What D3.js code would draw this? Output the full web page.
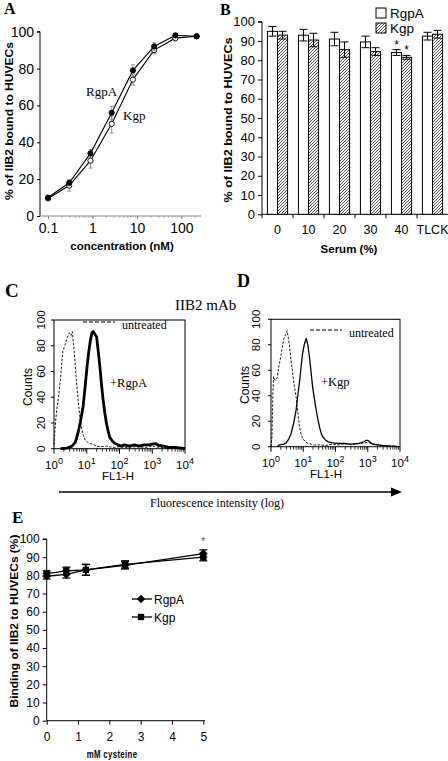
<!DOCTYPE html>
<html><head><meta charset="utf-8">
<script src="https://cdn.jsdelivr.net/npm/d3@7"></script>
<style>body{margin:0;background:#fff} svg{display:block}</style>
</head><body><svg id="c" width="448" height="761"></svg>
<script>
// ---------- Panel A ----------
const concA = [0.1, 0.3, 0.9, 2.7, 8.1, 24.3, 72.9, 218.7];
const rgpA_A = [10, 18, 34, 56, 79, 92, 98, 97.5];
const rgpA_Aerr = [1, 1.5, 2, 3.5, 3, 2, 1, 1];
const kgp_A = [9.5, 16.5, 30, 50, 74, 90, 96.5, 97.5];
const kgp_Aerr = [1, 3, 4, 5, 3, 2, 1.5, 1];
const ticksA_y = [0, 20, 40, 60, 80, 100];
const ticksA_x = [0.1, 1, 10, 100];

// ---------- Panel B ----------
const serumCats = ["0", "10", "20", "30", "40", "TLCK"];
const rgpB = [95, 93, 91, 89.5, 84, 92.5];
const rgpBerr = [2.5, 3, 3.5, 3, 1.5, 2];
const kgpB = [93, 90.5, 85.5, 84.5, 81.5, 93.5];
const kgpBerr = [2, 3.5, 4, 2, 1, 2];
const starsB = ["40"];
const ticksB_y = [0, 10, 20, 30, 40, 50, 60, 70, 80, 90, 100];

// ---------- Panels C, D (x = log10 FL1-H, y = counts) ----------
const C_untreated = [[0,3],[0.03,15],[0.08,30],[0.13,38],[0.2,55],[0.27,76],[0.33,80],[0.4,86],[0.47,90],[0.52,88],[0.56,91],[0.6,80],[0.64,68],[0.68,54],[0.73,40],[0.78,27],[0.84,16],[0.9,10],[0.95,7],[1.02,5],[1.1,4],[1.19,3.5],[1.3,2],[1.4,1.5],[1.6,2],[1.8,1],[2.0,1.5],[2.2,1],[2.5,1.5],[2.8,1],[3.0,2],[3.2,1],[3.5,0.5],[4,0]];
const C_rgpa = [[0.2,0],[0.4,0.5],[0.55,2],[0.65,5],[0.73,12],[0.8,20],[0.89,33],[0.95,48],[1.01,64],[1.06,75],[1.11,84],[1.16,90],[1.2,91],[1.25,89],[1.3,87],[1.35,76],[1.4,64],[1.45,50],[1.5,38],[1.55,28],[1.6,20],[1.65,14],[1.7,9],[1.78,6],[1.86,4],[1.95,3],[2.05,2],[2.15,3],[2.3,2],[2.45,3],[2.6,2],[2.75,3],[2.9,3],[3.0,3.5],[3.1,4],[3.2,2.5],[3.35,2],[3.5,1],[3.7,1],[3.9,0.5],[4,0]];
const D_untreated = [[0,0],[0.03,8],[0.06,42],[0.08,55],[0.13,52],[0.19,54],[0.25,64],[0.3,70],[0.35,78],[0.4,85],[0.45,88],[0.5,91],[0.54,85],[0.58,78],[0.62,68],[0.67,58],[0.72,48],[0.78,39],[0.83,27],[0.88,16],[0.93,10],[0.98,6.5],[1.06,4],[1.14,2.6],[1.25,2],[1.34,1.3],[1.5,1.5],[1.7,1],[1.9,2],[2.1,1.5],[2.3,2.5],[2.5,1.5],[2.7,2.5],[2.9,3],[3.0,3.5],[3.1,2.5],[3.3,1.5],[3.5,1],[3.8,0.5],[4,0]];
const D_kgp = [[0.2,0],[0.26,1.5],[0.4,2],[0.47,3],[0.55,6],[0.62,10],[0.7,18],[0.78,29],[0.83,40],[0.88,50],[0.93,62],[0.98,73],[1.03,80],[1.09,85],[1.14,80],[1.19,71],[1.24,59],[1.29,47],[1.35,37],[1.4,29],[1.45,22],[1.5,16],[1.55,11],[1.6,8],[1.68,5.5],[1.76,4],[1.9,3],[2.07,2.6],[2.25,2.5],[2.48,2],[2.7,2.5],[2.89,4],[2.95,5],[3.0,5],[3.08,3.5],[3.15,2],[3.3,1.5],[3.41,1],[3.7,0.5],[4,0]];
const flowDecades = [0, 1, 2, 3, 4];
const flowCountTicks = [0, 20, 40, 60, 80, 100];

// ---------- Panel E ----------
const cyst = [0, 0.625, 1.25, 2.5, 5];
const rgpE = [79.5, 80.5, 83, 85.5, 92];
const rgpEerr = [1.5, 2, 3, 2, 2];
const kgpE = [81, 82.5, 83, 86, 90];
const kgpEerr = [1.5, 2, 3, 2, 2];
const ticksE_y = [0, 10, 20, 30, 40, 50, 60, 70, 80, 90, 100];
const ticksE_x = [0, 1, 2, 3, 4, 5];

const SANS = "'Liberation Sans', Arial, sans-serif";
const SERIF = "'Liberation Serif', 'Times New Roman', serif";
const svg = d3.select("#c");
svg.append("rect").attr("width", 448).attr("height", 761).attr("fill", "#fff");

const defs = svg.append("defs");
const pat = defs.append("pattern").attr("id", "hatch").attr("patternUnits", "userSpaceOnUse")
  .attr("width", 3).attr("height", 3);
pat.append("rect").attr("width", 3).attr("height", 3).attr("fill", "#fff");
pat.append("path").attr("d", "M-1,1 l2,-2 M0,3 l3,-3 M2,4 l2,-2").attr("stroke", "#444").attr("stroke-width", 0.9);

function letter(t, x, y, size) {
  svg.append("text").attr("x", x).attr("y", y).text(t)
    .attr("font-family", SERIF).attr("font-weight", "bold").attr("font-size", size);
}
function styleAxis(g, fs, family) {
  g.select(".domain").attr("stroke", "#000").attr("stroke-width", 1);
  g.selectAll(".tick line").attr("stroke", "#000");
  g.selectAll(".tick text").attr("font-family", family || SANS).attr("font-size", fs).attr("fill", "#000");
}
function vLabel(t, x, y, len, fs, bold, family) {
  const el = svg.append("text").attr("transform", `translate(${x},${y}) rotate(-90)`)
    .attr("text-anchor", "middle").text(t).attr("fill", "#000")
    .attr("font-family", family || SANS).attr("font-size", fs)
    .attr("font-weight", bold ? "bold" : "normal");
  if (len) el.attr("textLength", len).attr("lengthAdjust", "spacingAndGlyphs");
  return el;
}

// ================= Panel A =================
letter("A", 4, 14, 16);
const xA = d3.scaleLog().domain([0.066, 275]).range([40, 201]);
const yA = d3.scaleLinear().domain([0, 100]).range([216, 31.7]);
{
  const gy = svg.append("g").attr("transform", "translate(40,0)")
    .call(d3.axisLeft(yA).tickValues(ticksA_y).tickSize(3).tickPadding(3));
  styleAxis(gy, 14);
  gy.select(".domain").attr("d", `M-3,${yA(100)}H0V${yA(0)}`);
  const minor = [];
  [0.1, 1, 10, 100].forEach(d => { for (let k = 1; k < 10; k++) { const v = d * k; if (v >= 0.07 && v <= 270) minor.push(v); } });
  const gm = svg.append("g").attr("transform", "translate(0,216)")
    .call(d3.axisBottom(xA).tickValues(minor).tickSize(2).tickFormat(""));
  gm.select(".domain").remove();
  gm.selectAll(".tick line").attr("stroke", "#bbb");
  const gx = svg.append("g").attr("transform", "translate(0,216)")
    .call(d3.axisBottom(xA).tickValues(ticksA_x).tickSize(3).tickPadding(4).tickFormat(d => String(d)));
  styleAxis(gx, 14);
  gx.select(".domain").attr("stroke", "#888").attr("d", `M40,0H201`);
  gx.selectAll(".tick line").attr("stroke", "#888");
  svg.append("text").attr("x", 122).attr("y", 250).attr("text-anchor", "middle")
    .attr("font-family", SANS).attr("font-weight", "bold").attr("font-size", 11.5).text("concentration (nM)");
  vLabel("% of IIB2 bound to HUVECs", 13, 121, 158, 11.5, true);

  const series = [
    { v: kgp_A, e: kgp_Aerr, fill: "#fff" },
    { v: rgpA_A, e: rgpA_Aerr, fill: "#000" }
  ];
  series.forEach(s => {
    const pts = concA.map((c, i) => [c, s.v[i], s.e[i]]);
    const eb = svg.append("g").attr("stroke", "#777").attr("stroke-width", 0.8);
    pts.forEach(p => {
      const x = xA(p[0]);
      eb.append("line").attr("x1", x).attr("x2", x).attr("y1", yA(p[1] - p[2])).attr("y2", yA(p[1] + p[2]));
      eb.append("line").attr("x1", x - 2).attr("x2", x + 2).attr("y1", yA(p[1] - p[2])).attr("y2", yA(p[1] - p[2]));
      eb.append("line").attr("x1", x - 2).attr("x2", x + 2).attr("y1", yA(p[1] + p[2])).attr("y2", yA(p[1] + p[2]));
    });
    svg.append("path").datum(pts).attr("fill", "none").attr("stroke", "#000").attr("stroke-width", 1.1)
      .attr("d", d3.line().x(d => xA(d[0])).y(d => yA(d[1])));
    svg.append("g").selectAll("circle").data(pts).join("circle")
      .attr("cx", d => xA(d[0])).attr("cy", d => yA(d[1])).attr("r", 2.6)
      .attr("fill", s.fill).attr("stroke", "#000").attr("stroke-width", 0.9);
  });
  svg.append("text").attr("x", 86).attr("y", 96).attr("font-family", SERIF).attr("font-size", 13).text("RgpA");
  svg.append("text").attr("x", 123).attr("y", 120).attr("font-family", SERIF).attr("font-size", 13).text("Kgp");
}

// ================= Panel B =================
letter("B", 220, 15, 16);
const xB = d3.scaleBand().domain(serumCats).range([262, 448]).paddingInner(0.35).paddingOuter(0.175);
const xBs = d3.scaleBand().domain(["RgpA", "Kgp"]).range([0, xB.bandwidth()]);
const yB = d3.scaleLinear().domain([0, 100]).range([214.3, 21.7]);
{
  const gy = svg.append("g").attr("transform", "translate(262,0)")
    .call(d3.axisLeft(yB).tickValues(ticksB_y).tickSize(4).tickPadding(3));
  styleAxis(gy, 13);
  gy.select(".domain").attr("d", `M-4,${yB(100)}H0V${yB(0)}`);
  const gx = svg.append("g").attr("transform", "translate(0,214.3)")
    .call(d3.axisBottom(xB).tickSize(0).tickPadding(11));
  styleAxis(gx, 12.5);
  gx.select(".domain").attr("d", "M262,0H448");
  const step = xB.step();
  serumCats.forEach((c, i) => {
    const bx = xB(c) - xB.paddingInner() * step / 2 ;
    svg.append("line").attr("x1", bx).attr("x2", bx).attr("y1", 214.3).attr("y2", 218.3).attr("stroke", "#000");
  });
  svg.append("text").attr("x", 349).attr("y", 253).attr("text-anchor", "middle")
    .attr("font-family", SANS).attr("font-weight", "bold").attr("font-size", 11.5).text("Serum (%)");
  vLabel("% of IIB2 bound to HUVECs", 232, 120, 165, 11.5, true);

  const ser = [
    { k: "RgpA", v: rgpB, e: rgpBerr, fill: "#fff" },
    { k: "Kgp", v: kgpB, e: kgpBerr, fill: "url(#hatch)" }
  ];
  ser.forEach(s => {
    serumCats.forEach((c, i) => {
      const x = xB(c) + xBs(s.k);
      const w = xBs.bandwidth();
      svg.append("rect").attr("x", x).attr("y", yB(s.v[i])).attr("width", w).attr("height", yB(0) - yB(s.v[i]))
        .attr("fill", s.fill).attr("stroke", "#000").attr("stroke-width", 1);
      const cx = x + w / 2;
      const g = svg.append("g").attr("stroke", "#000").attr("stroke-width", 1);
      g.append("line").attr("x1", cx).attr("x2", cx).attr("y1", yB(s.v[i] - s.e[i])).attr("y2", yB(s.v[i] + s.e[i]));
      [s.v[i] - s.e[i], s.v[i] + s.e[i]].forEach(v =>
        g.append("line").attr("x1", cx - 4).attr("x2", cx + 4).attr("y1", yB(v)).attr("y2", yB(v)));
      if (starsB.includes(c)) {
        svg.append("text").attr("x", cx).attr("y", yB(s.v[i] + s.e[i]) - 1).attr("text-anchor", "middle")
          .attr("font-family", SANS).attr("font-size", 12).text("*");
      }
    });
  });
  // legend
  svg.append("rect").attr("x", 376).attr("y", 8).attr("width", 10).attr("height", 10).attr("fill", "#fff").attr("stroke", "#000");
  svg.append("text").attr("x", 390).attr("y", 18).attr("font-family", SANS).attr("font-size", 13.5).text("RgpA");
  svg.append("rect").attr("x", 376).attr("y", 23).attr("width", 10).attr("height", 10).attr("fill", "url(#hatch)").attr("stroke", "#000");
  svg.append("text").attr("x", 390).attr("y", 33).attr("font-family", SANS).attr("font-size", 13.5).text("Kgp");
}

// ================= Panels C, D =================
letter("C", 5, 297, 19);
letter("D", 237, 287, 18);
svg.append("text").attr("x", 175).attr("y", 310).attr("font-family", SERIF).attr("font-size", 15).text("IIB2 mAb");

function flow(o) {
  const x = d3.scaleLinear().domain([0, 4]).range([o.x0, o.x1]);
  const y = d3.scaleLinear().domain([0, 100]).range([o.y0, o.y1]);
  svg.append("rect").attr("x", o.x0).attr("y", o.y1).attr("width", o.x1 - o.x0).attr("height", o.y0 - o.y1)
    .attr("fill", "none").attr("stroke", "#000").attr("stroke-width", 1);
  // y ticks
  flowCountTicks.forEach(t => {
    svg.append("line").attr("x1", o.x0 - 3).attr("x2", o.x0).attr("y1", y(t)).attr("y2", y(t)).attr("stroke", "#000");
    vLabel(String(t), o.ylabX, y(t), null, 11.5, false);
  });
  // x ticks (major + minor)
  flowDecades.forEach(d => {
    svg.append("line").attr("x1", x(d)).attr("x2", x(d)).attr("y1", o.y0).attr("y2", o.y0 + 5).attr("stroke", "#000");
    if (d < 4) for (let k = 2; k < 10; k++) {
      const xv = x(d + Math.log10(k));
      svg.append("line").attr("x1", xv).attr("x2", xv).attr("y1", o.y0).attr("y2", o.y0 + 3).attr("stroke", "#000").attr("stroke-width", 0.8);
    }
    const t = svg.append("text").attr("x", x(d)).attr("y", o.xlabY).attr("text-anchor", "middle")
      .attr("font-family", SANS).attr("font-size", 11.5);
    t.append("tspan").text("10");
    t.append("tspan").attr("dy", -5).attr("font-size", 9).text(String(d));
  });
  svg.append("text").attr("x", o.flX).attr("y", o.flY).attr("text-anchor", "middle")
    .attr("font-family", SANS).attr("font-size", 11.5).text("FL1-H");
  vLabel("Counts", o.countsX, o.countsY, null, 12, false);
  const line = d3.line().x(d => x(d[0])).y(d => y(d[1]));
  svg.append("path").datum(o.untreated).attr("d", line).attr("fill", "none").attr("stroke", "#000")
    .attr("stroke-width", 0.9).attr("stroke-dasharray", "2.5,1.5");
  svg.append("path").datum(o.treated).attr("d", line).attr("fill", "none").attr("stroke", "#000")
    .attr("stroke-width", o.tw).attr("stroke-linejoin", "round");
  svg.append("line").attr("x1", o.legX).attr("x2", o.legX + 32).attr("y1", o.legY).attr("y2", o.legY)
    .attr("stroke", "#000").attr("stroke-width", 1.2).attr("stroke-dasharray", "4,2");
  svg.append("text").attr("x", o.legX + 39).attr("y", o.legY + 7).attr("font-family", SERIF).attr("font-size", 12).text("untreated");
  svg.append("text").attr("x", o.tlX).attr("y", o.tlY).attr("font-family", SERIF).attr("font-size", 12.5).text(o.tl);
}
flow({ x0: 54, x1: 185, y0: 448.7, y1: 320, untreated: C_untreated, treated: C_rgpa, tw: 2.8,
  ylabX: 45, xlabY: 469, flX: 118, flY: 480, countsX: 32, countsY: 387,
  legX: 83, legY: 322, tl: "+RgpA", tlX: 110, tlY: 387 });
flow({ x0: 271, x1: 400, y0: 446.7, y1: 319.3, untreated: D_untreated, treated: D_kgp, tw: 1.3,
  ylabX: 260, xlabY: 467, flX: 326, flY: 478, countsX: 249, countsY: 385,
  legX: 310, legY: 330, tl: "+Kgp", tlX: 321, tlY: 386 });

// arrow
svg.append("line").attr("x1", 59).attr("x2", 393).attr("y1", 492).attr("y2", 492).attr("stroke", "#000").attr("stroke-width", 1.5);
svg.append("path").attr("d", "M391,487.5L402,492L391,496.5Z").attr("fill", "#000");
svg.append("text").attr("x", 217).attr("y", 507).attr("text-anchor", "middle").attr("font-family", SERIF)
  .attr("font-size", 12).text("Fluorescence intensity (log)");

// ================= Panel E =================
letter("E", 12, 523, 17);
const xE = d3.scaleLinear().domain([0, 5]).range([46.7, 203.3]);
const yE = d3.scaleLinear().domain([0, 100]).range([720.7, 539]);
{
  const gy = svg.append("g").attr("transform", "translate(46.7,0)")
    .call(d3.axisLeft(yE).tickValues(ticksE_y).tickSize(4).tickPadding(3));
  styleAxis(gy, 12);
  gy.select(".domain").attr("d", `M-4,${yE(100)}H0V${yE(0)}`);
  const gx = svg.append("g").attr("transform", "translate(0,720.7)")
    .call(d3.axisBottom(xE).tickValues(ticksE_x).tickSize(4).tickPadding(8).tickFormat(d3.format("d")));
  styleAxis(gx, 12);
  gx.select(".domain").attr("d", "M46.7,0H205");
  svg.append("text").attr("transform", "translate(112,758) scale(0.68,1)").attr("text-anchor", "middle")
    .attr("font-family", SANS).attr("font-weight", "bold").attr("font-size", 11.5).attr("fill", "#000")
    .attr("letter-spacing", 0.5).text("mM cysteine");
  vLabel("Binding of IIB2 to HUVECs (%)", 18, 621, 173, 11.5, true);

  const diamond = d3.symbol().type(d3.symbolDiamond2).size(45);
  const square = d3.symbol().type(d3.symbolSquare).size(40);
  const ser = [
    { v: kgpE, e: kgpEerr, sym: square },
    { v: rgpE, e: rgpEerr, sym: diamond }
  ];
  ser.forEach(s => {
    const pts = cyst.map((c, i) => [c, s.v[i], s.e[i]]);
    const eb = svg.append("g").attr("stroke", "#000").attr("stroke-width", 1.3);
    pts.forEach(p => {
      const x = xE(p[0]);
      eb.append("line").attr("x1", x).attr("x2", x).attr("y1", yE(p[1] - p[2])).attr("y2", yE(p[1] + p[2]));
      [p[1] - p[2], p[1] + p[2]].forEach(v =>
        eb.append("line").attr("x1", x - 4).attr("x2", x + 4).attr("y1", yE(v)).attr("y2", yE(v)));
    });
    svg.append("path").datum(pts).attr("fill", "none").attr("stroke", "#000").attr("stroke-width", 1.3)
      .attr("d", d3.line().x(d => xE(d[0])).y(d => yE(d[1])));
    svg.append("g").selectAll("path").data(pts).join("path")
      .attr("transform", d => `translate(${xE(d[0])},${yE(d[1])})`).attr("d", s.sym).attr("fill", "#000");
  });
  svg.append("text").attr("x", xE(5)).attr("y", yE(96.5)).attr("text-anchor", "middle")
    .attr("font-family", SANS).attr("font-size", 10).attr("fill", "#444").text("*");
  // legend
  const legE = [{ t: "RgpA", y: 599, sym: diamond }, { t: "Kgp", y: 617, sym: square }];
  legE.forEach(l => {
    svg.append("line").attr("x1", 132).attr("x2", 152).attr("y1", l.y).attr("y2", l.y).attr("stroke", "#000").attr("stroke-width", 1.3);
    svg.append("path").attr("transform", `translate(141,${l.y})`).attr("d", l.sym).attr("fill", "#000");
    svg.append("text").attr("x", 154).attr("y", l.y + 4.5).attr("font-family", SANS).attr("font-size", 12).text(l.t);
  });
}
</script></body></html>
